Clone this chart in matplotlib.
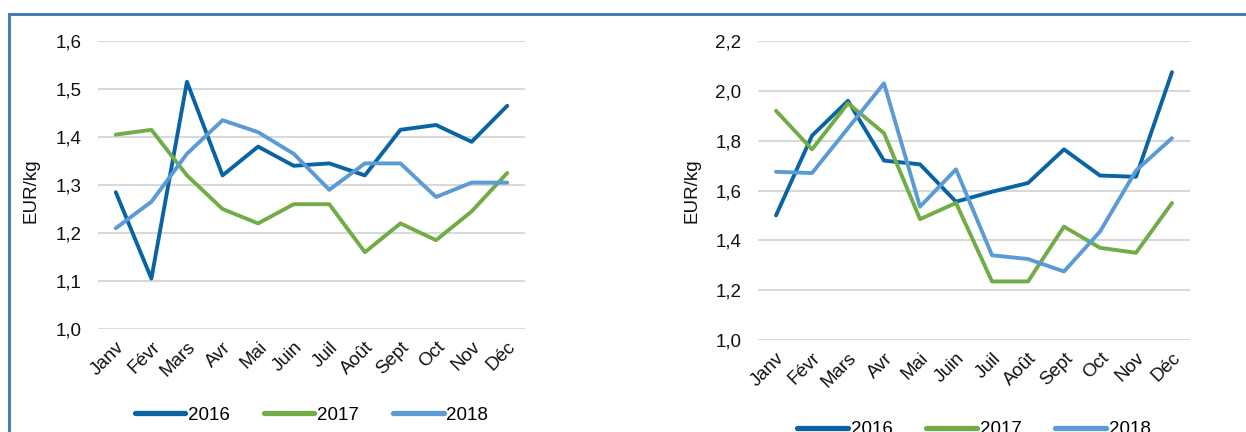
import matplotlib.pyplot as plt
from matplotlib.ticker import FuncFormatter, MultipleLocator
from matplotlib.lines import Line2D

plt.rcParams['font.family'] = ['Liberation Sans', 'DejaVu Sans']

months = ["Janv", "Févr", "Mars", "Avr", "Mai", "Juin", "Juil", "Août", "Sept", "Oct", "Nov", "Déc"]
years = ["2016", "2017", "2018"]

# left chart (EUR/kg)
left_2016 = [1.285, 1.105, 1.515, 1.32, 1.38, 1.34, 1.345, 1.32, 1.415, 1.425, 1.39, 1.465]
left_2017 = [1.405, 1.415, 1.32, 1.25, 1.22, 1.26, 1.26, 1.16, 1.22, 1.185, 1.245, 1.325]
left_2018 = [1.21, 1.265, 1.365, 1.435, 1.41, 1.365, 1.29, 1.345, 1.345, 1.275, 1.305, 1.305]

# right chart (EUR/kg)
right_2016 = [1.5, 1.82, 1.96, 1.72, 1.705, 1.555, 1.595, 1.63, 1.765, 1.66, 1.655, 2.075]
right_2017 = [1.92, 1.765, 1.95, 1.83, 1.485, 1.55, 1.235, 1.235, 1.455, 1.37, 1.35, 1.55]
right_2018 = [1.675, 1.67, 1.85, 2.03, 1.535, 1.685, 1.34, 1.325, 1.275, 1.435, 1.68, 1.81]

colors = ["#0A64A4", "#70AD47", "#5B9BD5"]

fig = plt.figure(figsize=(12.46, 4.32), dpi=100)

# blue frame lines
fig.add_artist(Line2D([9 / 1246, 1], [1 - 14 / 432, 1 - 14 / 432], color="#4A7EBB", lw=2.2))
fig.add_artist(Line2D([9 / 1246, 9 / 1246], [0, 1 - 14 / 432], color="#4A7EBB", lw=2.2))

comma = FuncFormatter(lambda v, p: f"{v:.1f}".replace(".", ","))


def draw(ax, series, ylim, step, legend_y):
    for vals, yr, c in zip(series, years, colors):
        ax.plot(range(len(months)), vals, color=c, lw=2.8, label=yr, solid_capstyle="round")
    ax.set_xlim(-0.5, len(months) - 0.5)
    ax.set_ylim(*ylim)
    ax.yaxis.set_major_locator(MultipleLocator(step))
    ax.yaxis.set_major_formatter(comma)
    ax.set_xticks(range(len(months)))
    ax.set_xticklabels(months, rotation=45, ha="right", rotation_mode="anchor")
    ax.tick_params(axis="both", length=0, labelsize=13.5, colors="#111111")
    ax.tick_params(axis="y", pad=12)
    ax.tick_params(axis="x", pad=7)
    ax.grid(axis="y", color="#D9D9D9", lw=1.5)
    ax.set_axisbelow(True)
    for s in ax.spines.values():
        s.set_visible(False)
    ax.set_ylabel("EUR/kg", fontsize=13.5, color="#111111")
    leg = ax.legend(loc="center", bbox_to_anchor=(0.5, legend_y), ncol=3, frameon=False,
                    fontsize=13.5, handlelength=2.7, handletextpad=0.15, columnspacing=1.8)
    for h in leg.get_lines():
        h.set_linewidth(3.8)


ax1 = fig.add_axes([98 / 1246, 1 - 329 / 432, 427 / 1246, 288 / 432])
draw(ax1, [left_2016, left_2017, left_2018], (1.0, 1.6), 0.1, -0.3)
ax1.yaxis.set_label_coords(-0.136, 0.48)

ax2 = fig.add_axes([758 / 1246, 1 - 340 / 432, 432 / 1246, 299 / 432])
draw(ax2, [right_2016, right_2017, right_2018], (1.0, 2.2), 0.2, -0.3)
ax2.yaxis.set_label_coords(-0.134, 0.5)

fig.savefig("out.png", dpi=100)
